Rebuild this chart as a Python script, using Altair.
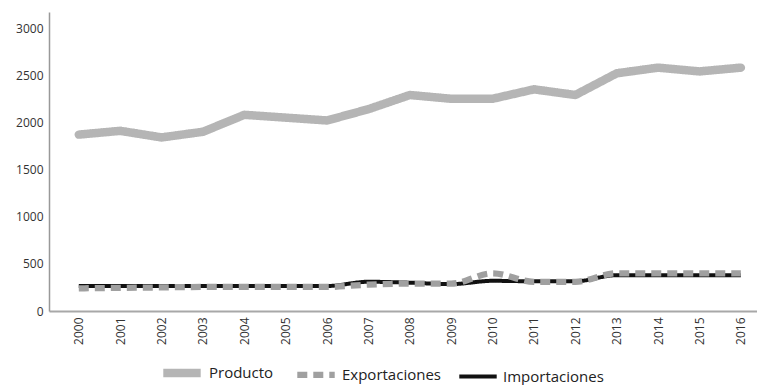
import altair as alt
import pandas as pd

years = list(range(2000, 2017))
producto = [1870, 1910, 1840, 1900, 2080, 2050, 2020, 2140, 2290, 2250, 2250, 2350, 2290, 2520, 2580, 2540, 2580]
exportaciones = [240, 245, 250, 255, 255, 255, 255, 280, 290, 290, 400, 310, 310, 400, 400, 400, 400]
importaciones = [265, 265, 265, 265, 265, 265, 265, 310, 300, 285, 320, 315, 315, 380, 380, 380, 380]

series = ["Producto", "Exportaciones", "Importaciones"]
colors = ["#b5b5b5", "#a0a0a0", "#111111"]
dashes = [[1, 0], [10, 6], [1, 0]]
widths = [8.5, 4, 3.5]

rows = []
for name, vals in zip(series, [producto, exportaciones, importaciones]):
    for y, v in zip(years, vals):
        rows.append({"Año": y, "Valor": v, "Serie": name})
df = pd.DataFrame(rows)

x_enc = alt.X("Año:Q", scale=alt.Scale(domain=[1999.28, 2016.39], nice=False, zero=False),
              axis=alt.Axis(values=years, format="d", labelAngle=270, title=None, ticks=False,
                            grid=False, domainColor="#a8a8a8", domainWidth=2,
                            labelFontSize=12, labelColor="#333", labelPadding=6,
                            labelFont="Open Sans", labelBaseline="middle", labelAlign="right"))
y_enc = alt.Y("Valor:Q", scale=alt.Scale(domain=[0, 3170], nice=False),
              axis=alt.Axis(values=[0, 500, 1000, 1500, 2000, 2500, 3000], format="d", title=None,
                            ticks=False, grid=False, domainColor="#999", domainWidth=1.5,
                            labelFontSize=12, labelColor="#333", labelPadding=6,
                            labelFont="Open Sans"))

legend = alt.Legend(title=None, orient="none", direction="horizontal", legendX=110, legendY=338,
                    symbolType="stroke", symbolSize=1400, labelFontSize=15, labelFont="Open Sans",
                    labelColor="#222", columnPadding=10, labelOffset=4, padding=0,
                    labelBaseline="middle")

color_enc = alt.Color("Serie:N", scale=alt.Scale(domain=series, range=colors), legend=legend)
dash_enc = alt.StrokeDash("Serie:N", scale=alt.Scale(domain=series, range=dashes), legend=legend)
width_enc = alt.StrokeWidth("Serie:N", scale=alt.Scale(domain=series, range=widths), legend=legend)

base = alt.Chart(df)
prod = base.transform_filter(alt.datum.Serie == "Producto").mark_line(strokeCap="round", strokeJoin="round").encode(
    x=x_enc, y=y_enc, color=color_enc, strokeDash=dash_enc, strokeWidth=width_enc)
imp = base.transform_filter(alt.datum.Serie == "Importaciones").mark_line(interpolate="monotone", strokeCap="butt").encode(
    x=x_enc, y=y_enc, color=color_enc, strokeDash=dash_enc, strokeWidth=width_enc)
exp = base.transform_filter(alt.datum.Serie == "Exportaciones").mark_line(interpolate="monotone", strokeCap="butt").encode(
    x=x_enc, y=y_enc, color=color_enc, strokeDash=dash_enc, strokeWidth=width_enc)

chart = alt.layer(prod, imp, exp).properties(
    width=708, height=299,
    autosize=alt.AutoSizeParams(type="none"),
    padding={"left": 49, "top": 12, "right": 0, "bottom": 74},
    background="white",
).configure_view(stroke=None)

chart.save("out.html", embed_options={"renderer": "svg", "actions": False})
